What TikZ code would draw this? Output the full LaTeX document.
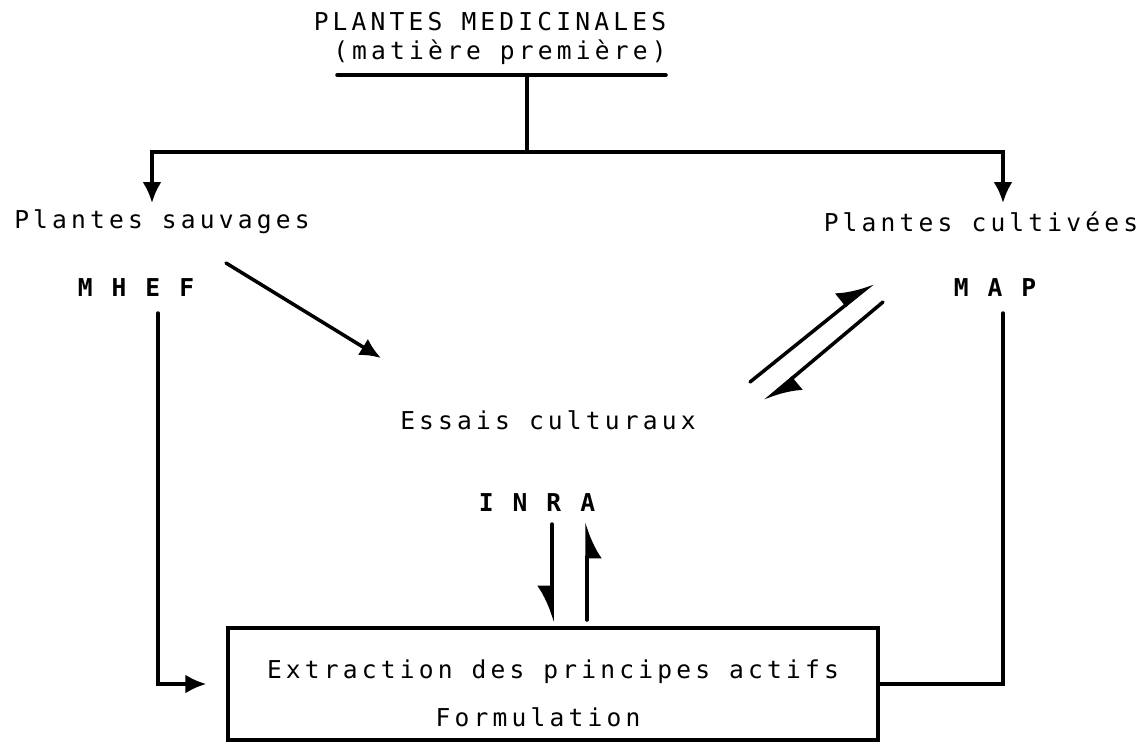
\documentclass[tikz,border=0pt]{standalone}
\usepackage{fontspec}
\newfontfamily\tw[LetterSpace=17]{DejaVu Sans Mono}
\usetikzlibrary{arrows.meta}

\begin{document}
\begin{tikzpicture}[x=0.02cm,y=-0.02cm,line width=2pt,line cap=round,
                    >={Latex[length=0.42cm,width=0.38cm]},
                    every node/.style={font=\tw\fontsize{14}{16}\selectfont,inner sep=0pt}]
    \tikzset{acr/.style={font=\tw\fontsize{14}{16}\selectfont\bfseries},
             half/.style={-{Latex[harpoon,length=0.62cm,width=0.64cm]}},
             halfs/.style={-{Latex[harpoon,swap,length=0.62cm,width=0.6cm]}}}
    \useasboundingbox (0,0) rectangle (1142,745);
    % texts
    \node (med) at (490,22) {PLANTES MEDICINALES};
    \node (mat) at (500,52) {(matière première)};
    \node (sauv) at (162,222) {Plantes sauvages};
    \node[anchor=east] (cult) at (1140,222) {Plantes cultivées};
    \node[acr] (mhef) at (136,288) {M H E F};
    \node[acr] (map) at (995,288) {M A P};
    \node (essais) at (548,420) {Essais culturaux};
    \node[acr] (inra) at (537,503) {I N R A};
    \node[draw,minimum width=13cm,minimum height=2.24cm] (box) at (553,684) {};
    \node (extr) at (553,672) {Extraction des principes actifs};
    \node (form) at (538,717) {Formulation};
    % points
    \coordinate (ul1) at (337,75);
    \coordinate (ul2) at (666,75);
    \coordinate (stem) at (527,75);
    \coordinate (split) at (527,152);
    \coordinate (sw) at (152,203);
    \coordinate (cw) at (1003,203);
    \coordinate (mhefdown) at (158,313);
    \coordinate (mapdown) at (1003,313);
    \coordinate (d1) at (226,263);
    \coordinate (d2) at (381,358);
    \coordinate (e1) at (750,382);
    \coordinate (e2) at (873,283);
    \coordinate (e3) at (883,302);
    \coordinate (e4) at (765,401);
    \coordinate (i1) at (552,524);
    \coordinate (i2) at (552,622);
    \coordinate (i3) at (587,620);
    \coordinate (i4) at (587,522);
    % lines
    \draw (ul1) -- (ul2);
    \draw (stem) -- (split);
    \draw[->] (split) -| (sw);
    \draw[->] (split) -| (cw);
    \draw[->] (mhefdown) |- ([xshift=-0.4cm]box.west);
    \draw (mapdown) |- (box.east);
    \draw[->] (d1) -- (d2);
    \draw[half] (e1) -- (e2);
    \draw[half] (e3) -- (e4);
    \draw[halfs] (i1) -- (i2);
    \draw[halfs] (i3) -- (i4);
\end{tikzpicture}
\end{document}
